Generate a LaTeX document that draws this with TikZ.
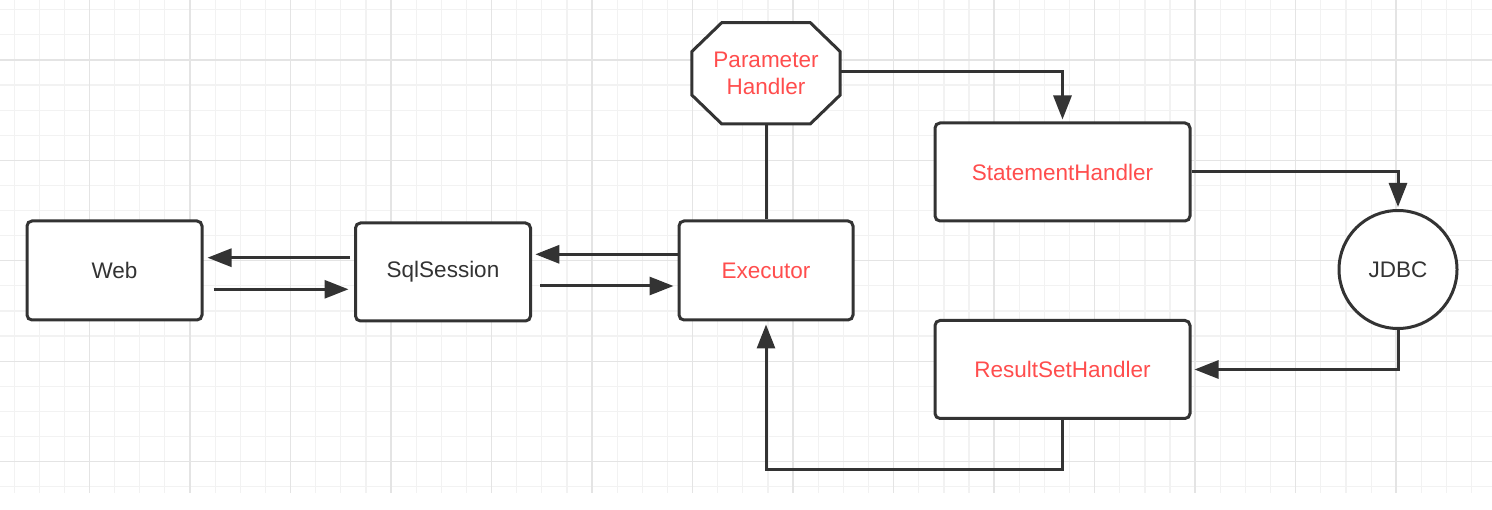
\documentclass[tikz,border=0pt]{standalone}
\usepackage{fontspec}
\setmainfont{Liberation Sans}
\usetikzlibrary{arrows.meta,backgrounds}
\definecolor{ink}{HTML}{333333}
\definecolor{redtext}{HTML}{FF4D4D}
\definecolor{gridminor}{HTML}{F2F2F2}
\definecolor{gridmajor}{HTML}{E4E4E4}
\begin{document}
\begin{tikzpicture}[x=1pt,y=-1pt,
  lbl/.style={font=\fontsize{22.5pt}{27pt}\selectfont, text=ink},
  redlbl/.style={lbl, text=redtext},
  box/.style={rectangle, draw=ink, line width=3pt, rounded corners=5pt, fill=white, inner sep=0pt},
  link/.style={draw=ink, line width=3pt},
  arr/.style={link, -{Triangle[length=24pt,width=18pt]}},
  minorline/.style={draw=gridminor, line width=1.2pt},
  majorline/.style={draw=gridmajor, line width=1.2pt}]
\useasboundingbox (0,0) rectangle (1492,510);
% grid
\begin{scope}[on background layer]
  \fill[white] (0,0) rectangle (1492,510);
  \foreach \k in {0,...,58} {
    \pgfmathsetmacro\gx{14.1+25.13*\k}
    \draw[minorline] (\gx,0) -- (\gx,493);
  }
  \foreach \k in {0,...,19} {
    \pgfmathsetmacro\gy{9.8+25.1*\k}
    \draw[minorline] (0,\gy) -- (1492,\gy);
  }
  \foreach \k in {0,...,13} {
    \pgfmathsetmacro\gx{89.4+100.5*\k}
    \draw[majorline] (\gx,0) -- (\gx,493);
  }
  \foreach \k in {0,...,4} {
    \pgfmathsetmacro\gy{60+100.4*\k}
    \draw[majorline] (0,\gy) -- (1492,\gy);
  }
\end{scope}

% nodes
\node[box, lbl, minimum width=175pt, minimum height=99pt] (web) at (114.5,270.5) {Web};
\node[box, lbl, minimum width=175pt, minimum height=98pt] (sql) at (443,272) {SqlSession};
\node[box, redlbl, minimum width=174pt, minimum height=99pt] (exe) at (766,270.5) {Executor};
\node[box, redlbl, minimum width=255pt, minimum height=98pt] (sh) at (1062.5,172) {StatementHandler};
\node[box, redlbl, minimum width=255pt, minimum height=98pt] (rs) at (1062.5,369.5) {ResultSetHandler};
\node[circle, draw=ink, line width=3pt, fill=white, minimum size=118pt, inner sep=0pt, lbl] (jdbc) at (1398,269.5) {JDBC};
\node[redlbl, rectangle, minimum width=148pt, minimum height=101pt, inner sep=0pt, align=center] (ph) at (766,73.3) {Parameter\\Handler};
\begin{scope}[on background layer]
  \draw[link, fill=white]
    ([xshift=30pt]ph.north west) -- ([xshift=-30pt]ph.north east)
    -- ([yshift=-29pt]ph.north east) -- ([yshift=29pt]ph.south east)
    -- ([xshift=-30pt]ph.south east) -- ([xshift=30pt]ph.south west)
    -- ([yshift=29pt]ph.south west) -- ([yshift=-29pt]ph.north west) -- cycle;
\end{scope}

% connectors
\draw[arr, shorten <=4pt, shorten >=4pt] ([yshift=14.3pt]sql.west) coordinate (a1) -- (a1 -| web.east);
\draw[arr, shorten <=10pt, shorten >=5.5pt] ([yshift=-18.8pt]web.east) coordinate (a2) -- (a2 -| sql.west);
\draw[arr, shorten >=3.3pt] ([yshift=16.2pt]exe.west) coordinate (a3) -- (a3 -| sql.east);
\draw[arr, shorten <=8.3pt, shorten >=4pt] ([yshift=-14pt]sql.east) coordinate (a4) -- (a4 -| exe.west);
\draw[link] (exe.north) -- (ph.south);
\draw[arr, shorten >=2pt] ([yshift=1.5pt]ph.east) -| (sh.north);
\draw[arr, shorten >=2pt] (sh.east) -| (jdbc.north);
\draw[arr, shorten >=3pt] (jdbc.south) |- (rs.east);
\draw[arr, shorten >=3pt] (rs.south) -- ++(0,49.5) -| (exe.south);
\end{tikzpicture}
\end{document}
